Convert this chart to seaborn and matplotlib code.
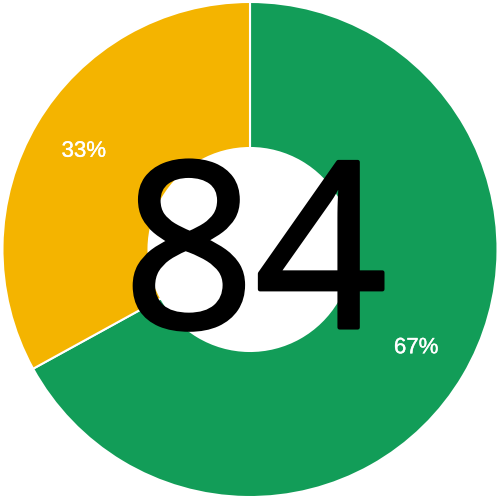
import matplotlib
matplotlib.use('Agg')
import matplotlib.pyplot as plt
import matplotlib.patheffects as pe
import seaborn as sns

# data
labels = ['67%', '33%']
values = [67, 33]
colors = ['#129d58', '#f4b400']
center_text = '84'

sns.set_theme(style='white')
plt.rcParams['font.family'] = ['Liberation Sans', 'DejaVu Sans']

fig = plt.figure(figsize=(5, 4.99), dpi=100)
ax = fig.add_axes([0, 0, 1, 1])

wedges, texts = ax.pie(values, colors=colors, startangle=90, counterclock=False,
                       radius=1.0, labels=labels, labeldistance=0.78,
                       wedgeprops=dict(width=0.59, edgecolor='white', linewidth=1.5),
                       textprops=dict(color='white', fontsize=16, ha='center', va='center'))
for t in texts:
    t.set_path_effects([pe.withStroke(linewidth=0.25, foreground='white')])

# big number in the middle, stroked a bit to get the heavier look
ax.text(0.02, -0.315, center_text, fontsize=166, family='Open Sans',
        ha='center', va='baseline', color='black',
        path_effects=[pe.withStroke(linewidth=3, foreground='black')])

ax.set_xlim(-1.008, 1.008)
ax.set_ylim(-1.008, 1.008)
ax.set_aspect('equal')
ax.axis('off')

plt.savefig('out.png', dpi=100)
